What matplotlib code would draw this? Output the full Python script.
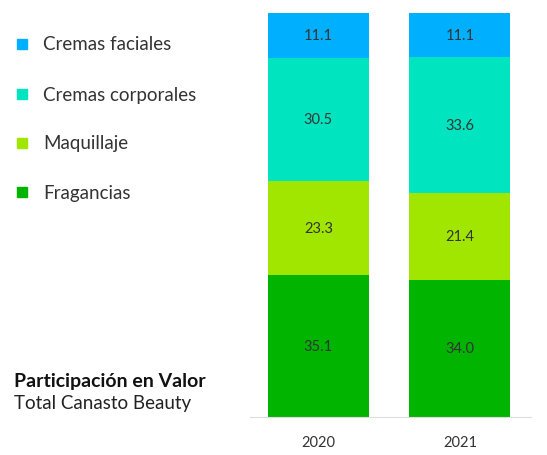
import matplotlib
matplotlib.use("Agg")
import matplotlib.pyplot as plt
import numpy as np

years = ["2020", "2021"]
series_names = ["Fragancias", "Maquillaje", "Cremas corporales", "Cremas faciales"]
fragancias = [35.1, 34.0]
maquillaje = [23.3, 21.4]
cremas_corporales = [30.5, 33.6]
cremas_faciales = [11.1, 11.1]
colors = ["#00B400", "#A0E600", "#00E5C0", "#00B0FF"]

plt.rcParams['font.family'] = ['Lato', 'DejaVu Sans']

fig = plt.figure(figsize=(5.47, 4.56), dpi=100)
ax = fig.add_axes([250/547, 38/456, 281/547, 404/456])

x = np.arange(len(years))
width = 0.714
bottom = np.zeros(len(years))
for vals, c in zip([fragancias, maquillaje, cremas_corporales, cremas_faciales], colors):
    vals = np.array(vals)
    ax.bar(x, vals, width, bottom=bottom, color=c, linewidth=0)
    for xi, b, v in zip(x, bottom, vals):
        ax.text(xi, b + v / 2, f"{v:.1f}", ha="center", va="center",
                fontsize=10.5, color="#333333")
    bottom += vals

ax.set_xlim(-0.484, 1.502)
ax.set_ylim(0, 100)
for s in ["top", "right", "left"]:
    ax.spines[s].set_visible(False)
ax.spines["bottom"].set_color("#dddddd")
ax.set_yticks([])
ax.set_xticks(x)
ax.set_xticklabels(years, fontsize=10.5, color="#333333")
ax.tick_params(axis="x", length=0, pad=13)

# legend
legend_items = list(zip(series_names[::-1], colors[::-1]))
ys = [45, 95, 144, 193]
for (name, c), yy in zip(legend_items, ys):
    fy = 1 - yy / 456
    fig.patches.append(plt.Rectangle((17/547, fy - 5/456), 10/547, 10/456,
                                     transform=fig.transFigure, color=c, figure=fig))
    fig.text(43/547, fy, name, fontsize=13.5, color="#333333", va="center", ha="left")

fig.text(14/547, 1 - 382/456, "Participación en Valor", fontsize=14, fontweight="bold",
         color="#111111", va="center", ha="left")
fig.text(14/547, 1 - 404/456, "Total Canasto Beauty", fontsize=13.5,
         color="#222222", va="center", ha="left")

fig.savefig("out.png", dpi=100)
